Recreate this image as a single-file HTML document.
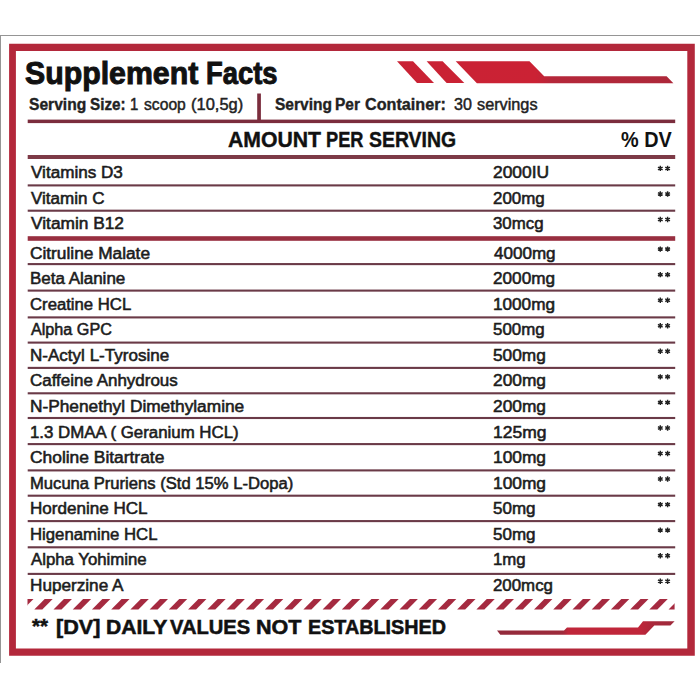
<!DOCTYPE html>
<html><head><meta charset="utf-8"><style>
html,body{margin:0;padding:0;background:#fff;width:700px;height:700px;overflow:hidden}
body{position:relative;font-family:"Liberation Sans",sans-serif}
.t{position:absolute;white-space:nowrap;transform-origin:0 0}
.r{position:absolute}
</style></head><body>
<div class="t" style="left:25.27px;top:52.82px;font-size:31.69px;line-height:40px;font-weight:700;color:#111;transform:scale(0.9554,1.0000);-webkit-text-stroke:1.0px #111;">Supplement</div>
<div class="t" style="left:206.19px;top:52.82px;font-size:31.69px;line-height:40px;font-weight:700;color:#111;transform:scale(0.8631,1.0000);-webkit-text-stroke:1.0px #111;">Facts</div>
<div class="t" style="left:29.11px;top:84.89px;font-size:15.60px;line-height:40px;font-weight:700;color:#222;transform:scale(1.0003,1.0000);-webkit-text-stroke:0.35px #222;">Serving</div>
<div class="t" style="left:90.21px;top:84.89px;font-size:15.60px;line-height:40px;font-weight:700;color:#222;transform:scale(0.9774,1.0000);-webkit-text-stroke:0.35px #222;">Size:</div>
<div class="t" style="left:130.49px;top:84.89px;font-size:15.60px;line-height:40px;font-weight:400;color:#222;transform:scale(0.9587,1.0000);-webkit-text-stroke:0.45px #222;">1</div>
<div class="t" style="left:144.10px;top:84.89px;font-size:15.60px;line-height:40px;font-weight:400;color:#222;transform:scale(1.0046,1.0000);-webkit-text-stroke:0.45px #222;">scoop</div>
<div class="t" style="left:190.71px;top:84.89px;font-size:15.60px;line-height:40px;font-weight:400;color:#222;transform:scale(1.0561,1.0000);-webkit-text-stroke:0.45px #222;">(10,5g)</div>
<div class="t" style="left:274.81px;top:84.89px;font-size:15.60px;line-height:40px;font-weight:700;color:#222;transform:scale(0.9950,1.0000);-webkit-text-stroke:0.35px #222;">Serving</div>
<div class="t" style="left:335.13px;top:84.89px;font-size:15.60px;line-height:40px;font-weight:700;color:#222;transform:scale(0.9910,1.0000);-webkit-text-stroke:0.35px #222;">Per</div>
<div class="t" style="left:364.73px;top:84.89px;font-size:15.60px;line-height:40px;font-weight:700;color:#222;transform:scale(1.0375,1.0000);-webkit-text-stroke:0.35px #222;">Container:</div>
<div class="t" style="left:453.53px;top:84.89px;font-size:15.60px;line-height:40px;font-weight:400;color:#222;transform:scale(1.0304,1.0000);-webkit-text-stroke:0.45px #222;">30</div>
<div class="t" style="left:477.19px;top:84.89px;font-size:15.60px;line-height:40px;font-weight:400;color:#222;transform:scale(1.0426,1.0000);-webkit-text-stroke:0.45px #222;">servings</div>
<div class="t" style="left:228.17px;top:119.90px;font-size:21.66px;line-height:40px;font-weight:700;color:#111;transform:scale(0.9793,1.0000);-webkit-text-stroke:0.4px #111;">AMOUNT</div>
<div class="t" style="left:326.34px;top:119.90px;font-size:21.66px;line-height:40px;font-weight:700;color:#111;transform:scale(0.8417,1.0000);-webkit-text-stroke:0.4px #111;">PER</div>
<div class="t" style="left:369.40px;top:119.90px;font-size:21.66px;line-height:40px;font-weight:700;color:#111;transform:scale(0.8966,1.0000);-webkit-text-stroke:0.4px #111;">SERVING</div>
<div class="t" style="left:620.70px;top:119.55px;font-size:21.51px;line-height:40px;font-weight:700;color:#111;transform:scale(0.9224,1.0000);">% DV</div>
<div class="t" style="left:31.21px;top:152.96px;font-size:16.00px;line-height:40px;font-weight:400;color:#1c1c1c;transform:scale(1.0682,1.0000);-webkit-text-stroke:0.55px #1c1c1c;">Vitamins D3</div>
<div class="t" style="left:493.23px;top:152.96px;font-size:16.00px;line-height:40px;font-weight:400;color:#1c1c1c;transform:scale(1.0876,1.0000);-webkit-text-stroke:0.55px #1c1c1c;">2000IU</div>
<div class="t" style="left:31.21px;top:178.96px;font-size:16.00px;line-height:40px;font-weight:400;color:#1c1c1c;transform:scale(1.0637,1.0000);-webkit-text-stroke:0.55px #1c1c1c;">Vitamin C</div>
<div class="t" style="left:493.24px;top:178.96px;font-size:16.00px;line-height:40px;font-weight:400;color:#1c1c1c;transform:scale(1.0573,1.0000);-webkit-text-stroke:0.55px #1c1c1c;">200mg</div>
<div class="t" style="left:31.21px;top:203.96px;font-size:16.00px;line-height:40px;font-weight:400;color:#1c1c1c;transform:scale(1.0814,1.0000);-webkit-text-stroke:0.55px #1c1c1c;">Vitamin B12</div>
<div class="t" style="left:493.46px;top:203.96px;font-size:16.00px;line-height:40px;font-weight:400;color:#1c1c1c;transform:scale(1.0522,1.0000);-webkit-text-stroke:0.55px #1c1c1c;">30mcg</div>
<div class="t" style="left:30.43px;top:233.96px;font-size:16.00px;line-height:40px;font-weight:400;color:#1c1c1c;transform:scale(1.0796,1.0000);-webkit-text-stroke:0.55px #1c1c1c;">Citruline Malate</div>
<div class="t" style="left:493.71px;top:233.96px;font-size:16.00px;line-height:40px;font-weight:400;color:#1c1c1c;transform:scale(1.0651,1.0000);-webkit-text-stroke:0.55px #1c1c1c;">4000mg</div>
<div class="t" style="left:29.89px;top:258.96px;font-size:16.00px;line-height:40px;font-weight:400;color:#1c1c1c;transform:scale(1.0601,1.0000);-webkit-text-stroke:0.55px #1c1c1c;">Beta Alanine</div>
<div class="t" style="left:493.24px;top:258.96px;font-size:16.00px;line-height:40px;font-weight:400;color:#1c1c1c;transform:scale(1.0734,1.0000);-webkit-text-stroke:0.55px #1c1c1c;">2000mg</div>
<div class="t" style="left:30.45px;top:284.96px;font-size:16.00px;line-height:40px;font-weight:400;color:#1c1c1c;transform:scale(1.0442,1.0000);-webkit-text-stroke:0.55px #1c1c1c;">Creatine HCL</div>
<div class="t" style="left:492.81px;top:284.96px;font-size:16.00px;line-height:40px;font-weight:400;color:#1c1c1c;transform:scale(1.0721,1.0000);-webkit-text-stroke:0.55px #1c1c1c;">1000mg</div>
<div class="t" style="left:31.24px;top:309.96px;font-size:16.00px;line-height:40px;font-weight:400;color:#1c1c1c;transform:scale(1.0099,1.0000);-webkit-text-stroke:0.55px #1c1c1c;">Alpha GPC</div>
<div class="t" style="left:493.42px;top:309.96px;font-size:16.00px;line-height:40px;font-weight:400;color:#1c1c1c;transform:scale(1.0537,1.0000);-webkit-text-stroke:0.55px #1c1c1c;">500mg</div>
<div class="t" style="left:29.89px;top:335.96px;font-size:16.00px;line-height:40px;font-weight:400;color:#1c1c1c;transform:scale(1.0648,1.0000);-webkit-text-stroke:0.55px #1c1c1c;">N-Actyl L-Tyrosine</div>
<div class="t" style="left:493.41px;top:335.96px;font-size:16.00px;line-height:40px;font-weight:400;color:#1c1c1c;transform:scale(1.0788,1.0000);-webkit-text-stroke:0.55px #1c1c1c;">500mg</div>
<div class="t" style="left:30.44px;top:360.96px;font-size:16.00px;line-height:40px;font-weight:400;color:#1c1c1c;transform:scale(1.0603,1.0000);-webkit-text-stroke:0.55px #1c1c1c;">Caffeine Anhydrous</div>
<div class="t" style="left:493.23px;top:360.96px;font-size:16.00px;line-height:40px;font-weight:400;color:#1c1c1c;transform:scale(1.0824,1.0000);-webkit-text-stroke:0.55px #1c1c1c;">200mg</div>
<div class="t" style="left:29.87px;top:386.96px;font-size:16.00px;line-height:40px;font-weight:400;color:#1c1c1c;transform:scale(1.0801,1.0000);-webkit-text-stroke:0.55px #1c1c1c;">N-Phenethyl Dimethylamine</div>
<div class="t" style="left:493.23px;top:386.96px;font-size:16.00px;line-height:40px;font-weight:400;color:#1c1c1c;transform:scale(1.0824,1.0000);-webkit-text-stroke:0.55px #1c1c1c;">200mg</div>
<div class="t" style="left:30.03px;top:412.96px;font-size:16.00px;line-height:40px;font-weight:400;color:#1c1c1c;transform:scale(1.0522,1.0000);-webkit-text-stroke:0.55px #1c1c1c;">1.3 DMAA ( Geranium HCL)</div>
<div class="t" style="left:492.79px;top:412.96px;font-size:16.00px;line-height:40px;font-weight:400;color:#1c1c1c;transform:scale(1.0916,1.0000);-webkit-text-stroke:0.55px #1c1c1c;">125mg</div>
<div class="t" style="left:30.43px;top:437.96px;font-size:16.00px;line-height:40px;font-weight:400;color:#1c1c1c;transform:scale(1.0867,1.0000);-webkit-text-stroke:0.55px #1c1c1c;">Choline Bitartrate</div>
<div class="t" style="left:492.80px;top:437.96px;font-size:16.00px;line-height:40px;font-weight:400;color:#1c1c1c;transform:scale(1.0831,1.0000);-webkit-text-stroke:0.55px #1c1c1c;">100mg</div>
<div class="t" style="left:29.92px;top:463.96px;font-size:16.00px;line-height:40px;font-weight:400;color:#1c1c1c;transform:scale(1.0383,1.0000);-webkit-text-stroke:0.55px #1c1c1c;">Mucuna Pruriens (Std 15% L-Dopa)</div>
<div class="t" style="left:492.80px;top:463.96px;font-size:16.00px;line-height:40px;font-weight:400;color:#1c1c1c;transform:scale(1.0831,1.0000);-webkit-text-stroke:0.55px #1c1c1c;">100mg</div>
<div class="t" style="left:29.89px;top:488.96px;font-size:16.00px;line-height:40px;font-weight:400;color:#1c1c1c;transform:scale(1.0652,1.0000);-webkit-text-stroke:0.55px #1c1c1c;">Hordenine HCL</div>
<div class="t" style="left:493.41px;top:488.96px;font-size:16.00px;line-height:40px;font-weight:400;color:#1c1c1c;transform:scale(1.0614,1.0000);-webkit-text-stroke:0.55px #1c1c1c;">50mg</div>
<div class="t" style="left:29.91px;top:514.96px;font-size:16.00px;line-height:40px;font-weight:400;color:#1c1c1c;transform:scale(1.0460,1.0000);-webkit-text-stroke:0.55px #1c1c1c;">Higenamine HCL</div>
<div class="t" style="left:493.41px;top:514.96px;font-size:16.00px;line-height:40px;font-weight:400;color:#1c1c1c;transform:scale(1.0614,1.0000);-webkit-text-stroke:0.55px #1c1c1c;">50mg</div>
<div class="t" style="left:31.25px;top:539.96px;font-size:16.00px;line-height:40px;font-weight:400;color:#1c1c1c;transform:scale(1.0480,1.0000);-webkit-text-stroke:0.55px #1c1c1c;">Alpha Yohimine</div>
<div class="t" style="left:492.83px;top:539.96px;font-size:16.00px;line-height:40px;font-weight:400;color:#1c1c1c;transform:scale(1.0485,1.0000);-webkit-text-stroke:0.55px #1c1c1c;">1mg</div>
<div class="t" style="left:29.88px;top:565.96px;font-size:16.00px;line-height:40px;font-weight:400;color:#1c1c1c;transform:scale(1.0724,1.0000);-webkit-text-stroke:0.55px #1c1c1c;">Huperzine A</div>
<div class="t" style="left:493.25px;top:565.96px;font-size:16.00px;line-height:40px;font-weight:400;color:#1c1c1c;transform:scale(1.0526,1.0000);-webkit-text-stroke:0.55px #1c1c1c;">200mcg</div>
<svg class="r" style="left:0;top:0" width="700" height="700"><path d="M660.30 165.70L660.30 171.10M657.96 167.05L662.64 169.75M657.96 169.75L662.64 167.05M667.60 165.70L667.60 171.10M665.26 167.05L669.94 169.75M665.26 169.75L669.94 167.05M660.30 191.25L660.30 196.65M657.96 192.60L662.64 195.30M657.96 195.30L662.64 192.60M667.60 191.25L667.60 196.65M665.26 192.60L669.94 195.30M665.26 195.30L669.94 192.60M660.30 216.80L660.30 222.20M657.96 218.15L662.64 220.85M657.96 220.85L662.64 218.15M667.60 216.80L667.60 222.20M665.26 218.15L669.94 220.85M665.26 220.85L669.94 218.15M660.30 246.40L660.30 251.80M657.96 247.75L662.64 250.45M657.96 250.45L662.64 247.75M667.60 246.40L667.60 251.80M665.26 247.75L669.94 250.45M665.26 250.45L669.94 247.75M660.30 271.95L660.30 277.35M657.96 273.30L662.64 276.00M657.96 276.00L662.64 273.30M667.60 271.95L667.60 277.35M665.26 273.30L669.94 276.00M665.26 276.00L669.94 273.30M660.30 297.50L660.30 302.90M657.96 298.85L662.64 301.55M657.96 301.55L662.64 298.85M667.60 297.50L667.60 302.90M665.26 298.85L669.94 301.55M665.26 301.55L669.94 298.85M660.30 323.05L660.30 328.45M657.96 324.40L662.64 327.10M657.96 327.10L662.64 324.40M667.60 323.05L667.60 328.45M665.26 324.40L669.94 327.10M665.26 327.10L669.94 324.40M660.30 348.60L660.30 354.00M657.96 349.95L662.64 352.65M657.96 352.65L662.64 349.95M667.60 348.60L667.60 354.00M665.26 349.95L669.94 352.65M665.26 352.65L669.94 349.95M660.30 374.15L660.30 379.55M657.96 375.50L662.64 378.20M657.96 378.20L662.64 375.50M667.60 374.15L667.60 379.55M665.26 375.50L669.94 378.20M665.26 378.20L669.94 375.50M660.30 399.70L660.30 405.10M657.96 401.05L662.64 403.75M657.96 403.75L662.64 401.05M667.60 399.70L667.60 405.10M665.26 401.05L669.94 403.75M665.26 403.75L669.94 401.05M660.30 425.25L660.30 430.65M657.96 426.60L662.64 429.30M657.96 429.30L662.64 426.60M667.60 425.25L667.60 430.65M665.26 426.60L669.94 429.30M665.26 429.30L669.94 426.60M660.30 450.80L660.30 456.20M657.96 452.15L662.64 454.85M657.96 454.85L662.64 452.15M667.60 450.80L667.60 456.20M665.26 452.15L669.94 454.85M665.26 454.85L669.94 452.15M660.30 476.35L660.30 481.75M657.96 477.70L662.64 480.40M657.96 480.40L662.64 477.70M667.60 476.35L667.60 481.75M665.26 477.70L669.94 480.40M665.26 480.40L669.94 477.70M660.30 501.90L660.30 507.30M657.96 503.25L662.64 505.95M657.96 505.95L662.64 503.25M667.60 501.90L667.60 507.30M665.26 503.25L669.94 505.95M665.26 505.95L669.94 503.25M660.30 527.45L660.30 532.85M657.96 528.80L662.64 531.50M657.96 531.50L662.64 528.80M667.60 527.45L667.60 532.85M665.26 528.80L669.94 531.50M665.26 531.50L669.94 528.80M660.30 553.00L660.30 558.40M657.96 554.35L662.64 557.05M657.96 557.05L662.64 554.35M667.60 553.00L667.60 558.40M665.26 554.35L669.94 557.05M665.26 557.05L669.94 554.35M660.30 578.55L660.30 583.95M657.96 579.90L662.64 582.60M657.96 582.60L662.64 579.90M667.60 578.55L667.60 583.95M665.26 579.90L669.94 582.60M665.26 582.60L669.94 579.90" stroke="#222" stroke-width="1.45" fill="none"/></svg>
<svg class="r" style="left:0;top:0" width="700" height="700"><rect x="0" y="35" width="700" height="1" fill="#959595"/><rect x="0" y="35" width="1" height="628" fill="#959595"/><path fill-rule="evenodd" fill="#b3283b" d="M9.1 43.75H694.8V655.7H9.1Z M15.9 50.9V648.4H687.3V50.9Z"/><rect x="257.2" y="93.5" width="3.7" height="27" fill="#7b2d3d"/><rect x="27.7" y="119.6" width="647.5" height="3.5" fill="#7b2d3d"/><rect x="27.7" y="155" width="647.5" height="4" fill="#7d3a47"/><rect x="27.7" y="184.35" width="647.5" height="2.1" fill="#6a3a47"/><rect x="27.7" y="209.65" width="647.5" height="2.1" fill="#6a3a47"/><rect x="27.7" y="236.2" width="647.5" height="4.6" fill="#982f40"/><rect x="27.7" y="263.05" width="647.5" height="2.1" fill="#6a3a47"/><rect x="27.7" y="289.55" width="647.5" height="2.1" fill="#6a3a47"/><rect x="27.7" y="316.35" width="647.5" height="2.1" fill="#6a3a47"/><rect x="27.7" y="341.55" width="647.5" height="2.1" fill="#6a3a47"/><rect x="27.7" y="366.85" width="647.5" height="2.1" fill="#6a3a47"/><rect x="27.7" y="392.25" width="647.5" height="2.1" fill="#6a3a47"/><rect x="27.7" y="416.95" width="647.5" height="2.1" fill="#6a3a47"/><rect x="27.7" y="443.05" width="647.5" height="2.1" fill="#6a3a47"/><rect x="27.7" y="469.35" width="647.5" height="2.1" fill="#6a3a47"/><rect x="27.7" y="494.65" width="647.5" height="2.1" fill="#6a3a47"/><rect x="27.7" y="520.05" width="647.5" height="2.1" fill="#6a3a47"/><rect x="27.7" y="546.25" width="647.5" height="2.1" fill="#6a3a47"/><rect x="27.7" y="572.85" width="647.5" height="2.1" fill="#6a3a47"/><defs><clipPath id="c1"><rect x="27.5" y="590" width="647.1" height="30"/></clipPath></defs><g fill="#a52a40" clip-path="url(#c1)"><polygon points="15.08,609.5 23.08,609.5 33.48,599.1 25.48,599.1"/><polygon points="34.30,609.5 42.30,609.5 52.70,599.1 44.70,599.1"/><polygon points="53.52,609.5 61.52,609.5 71.92,599.1 63.92,599.1"/><polygon points="72.74,609.5 80.74,609.5 91.14,599.1 83.14,599.1"/><polygon points="91.96,609.5 99.96,609.5 110.36,599.1 102.36,599.1"/><polygon points="111.18,609.5 119.18,609.5 129.58,599.1 121.58,599.1"/><polygon points="130.40,609.5 138.40,609.5 148.80,599.1 140.80,599.1"/><polygon points="149.62,609.5 157.62,609.5 168.02,599.1 160.02,599.1"/><polygon points="168.84,609.5 176.84,609.5 187.24,599.1 179.24,599.1"/><polygon points="188.06,609.5 196.06,609.5 206.46,599.1 198.46,599.1"/><polygon points="207.28,609.5 215.28,609.5 225.68,599.1 217.68,599.1"/><polygon points="226.50,609.5 234.50,609.5 244.90,599.1 236.90,599.1"/><polygon points="245.72,609.5 253.72,609.5 264.12,599.1 256.12,599.1"/><polygon points="264.94,609.5 272.94,609.5 283.34,599.1 275.34,599.1"/><polygon points="284.16,609.5 292.16,609.5 302.56,599.1 294.56,599.1"/><polygon points="303.38,609.5 311.38,609.5 321.78,599.1 313.78,599.1"/><polygon points="322.60,609.5 330.60,609.5 341.00,599.1 333.00,599.1"/><polygon points="341.82,609.5 349.82,609.5 360.22,599.1 352.22,599.1"/><polygon points="361.04,609.5 369.04,609.5 379.44,599.1 371.44,599.1"/><polygon points="380.26,609.5 388.26,609.5 398.66,599.1 390.66,599.1"/><polygon points="399.48,609.5 407.48,609.5 417.88,599.1 409.88,599.1"/><polygon points="418.70,609.5 426.70,609.5 437.10,599.1 429.10,599.1"/><polygon points="437.92,609.5 445.92,609.5 456.32,599.1 448.32,599.1"/><polygon points="457.14,609.5 465.14,609.5 475.54,599.1 467.54,599.1"/><polygon points="476.36,609.5 484.36,609.5 494.76,599.1 486.76,599.1"/><polygon points="495.58,609.5 503.58,609.5 513.98,599.1 505.98,599.1"/><polygon points="514.80,609.5 522.80,609.5 533.20,599.1 525.20,599.1"/><polygon points="534.02,609.5 542.02,609.5 552.42,599.1 544.42,599.1"/><polygon points="553.24,609.5 561.24,609.5 571.64,599.1 563.64,599.1"/><polygon points="572.46,609.5 580.46,609.5 590.86,599.1 582.86,599.1"/><polygon points="591.68,609.5 599.68,609.5 610.08,599.1 602.08,599.1"/><polygon points="610.90,609.5 618.90,609.5 629.30,599.1 621.30,599.1"/><polygon points="630.12,609.5 638.12,609.5 648.52,599.1 640.52,599.1"/><polygon points="649.34,609.5 657.34,609.5 667.74,599.1 659.74,599.1"/><polygon points="668.56,609.5 676.56,609.5 686.96,599.1 678.96,599.1"/><polygon points="687.78,609.5 695.78,609.5 706.18,599.1 698.18,599.1"/></g><defs><linearGradient id="gt" gradientUnits="userSpaceOnUse" x1="397" y1="0" x2="674" y2="0"><stop offset="0" stop-color="#c92234"/><stop offset="0.5" stop-color="#cb2234"/><stop offset="0.56" stop-color="#b5273a"/><stop offset="1" stop-color="#ad283a"/></linearGradient><linearGradient id="gb" gradientUnits="userSpaceOnUse" x1="497" y1="0" x2="675" y2="0"><stop offset="0" stop-color="#922a3b"/><stop offset="0.37" stop-color="#9e2a3b"/><stop offset="0.4" stop-color="#c0263a"/><stop offset="0.8" stop-color="#c0263a"/><stop offset="0.88" stop-color="#a8283a"/><stop offset="1" stop-color="#9e2a3b"/></linearGradient></defs><g fill="url(#gt)"><polygon points="397,61.3 413,61.3 434,83 417,83"/><polygon points="426.6,61.3 442.6,61.3 464.3,83 446.6,83"/><polygon points="455.7,61.3 529.5,61.3 544.2,76.2 666.6,76.2 673.4,83.2 476.9,83.2"/></g><g fill="url(#gb)"><polygon points="497,630.4 564,630.4 567,627.4 638,627.4 643,621.3 674.6,621.3 670.4,625.6 654.3,625.6 645.4,634.8 500.3,634.8"/></g></svg>
<div class="t" style="left:55.50px;top:607.30px;font-size:20.78px;line-height:40px;font-weight:700;color:#111;transform:scale(1.0396,1.0000);-webkit-text-stroke:0.55px #111;">[DV]</div>
<div class="t" style="left:105.55px;top:607.30px;font-size:20.78px;line-height:40px;font-weight:700;color:#111;transform:scale(1.0157,1.0000);-webkit-text-stroke:0.55px #111;">DAILY</div>
<div class="t" style="left:170.42px;top:607.30px;font-size:20.78px;line-height:40px;font-weight:700;color:#111;transform:scale(0.9692,1.0000);-webkit-text-stroke:0.55px #111;">VALUES</div>
<div class="t" style="left:255.83px;top:607.30px;font-size:20.78px;line-height:40px;font-weight:700;color:#111;transform:scale(1.0375,1.0000);-webkit-text-stroke:0.55px #111;">NOT</div>
<div class="t" style="left:307.53px;top:607.30px;font-size:20.78px;line-height:40px;font-weight:700;color:#111;transform:scale(0.9512,1.0000);-webkit-text-stroke:0.55px #111;">ESTABLISHED</div>
<div class="t" style="left:32.30px;top:606.00px;font-size:20.78px;line-height:40px;font-weight:700;color:#111;transform:scale(0.9935,1.0000);-webkit-text-stroke:0.5px #111;">**</div>
</body></html>
